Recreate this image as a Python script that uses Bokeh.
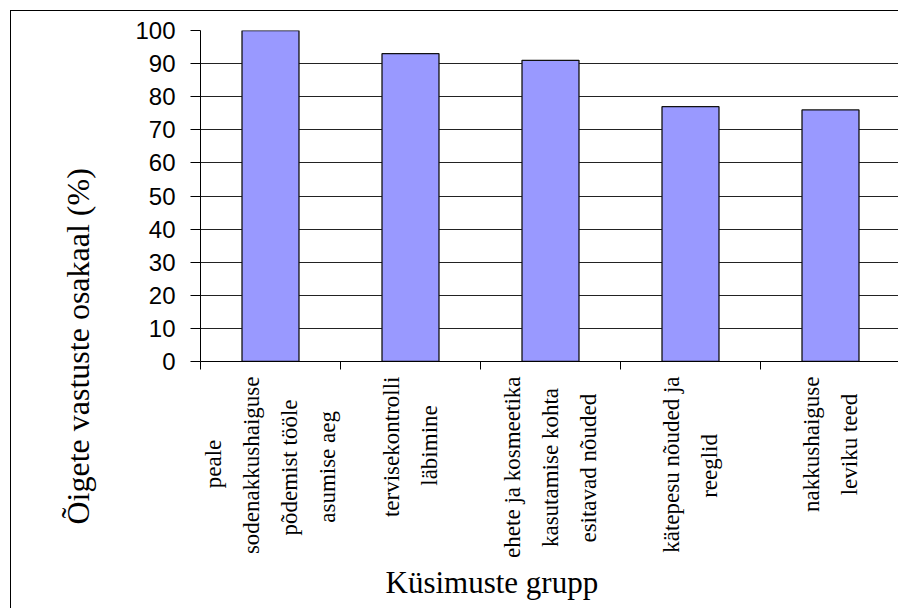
import math
from bokeh.plotting import figure
from bokeh.models import Range1d, FixedTicker, Title, ColumnDataSource
from bokeh.embed import file_html
from bokeh.resources import INLINE

# ---- data ----
categories = [
    "peale\nsodenakkushaiguse\npõdemist tööle\nasumise aeg",
    "tervisekontrolli\nläbimine",
    "ehete ja kosmeetika\nkasutamise kohta\nesitavad nõuded",
    "kätepesu nõuded ja\nreeglid",
    "nakkushaiguse\nleviku teed",
]
values = [100, 93, 91, 77, 76]
y_ticks = [0, 10, 20, 30, 40, 50, 60, 70, 80, 90, 100]
y_title = "Õigete vastuste osakaal (%)"
x_title = "Küsimuste grupp"

# ---- layout / style ----
OX, OY = 11, 12            # figure origin on the page (margin + border)
W, H = 899 - OX, 610 - OY
serif = "Liberation Serif"
sans = "Liberation Sans"

# approximate advance widths (em) of Liberation Serif, used only to centre the
# lines of each rotated multi-line category label
_em = {"a": .444, "b": .5, "c": .444, "d": .5, "e": .444, "f": .333, "g": .5, "h": .5,
       "i": .278, "j": .278, "k": .5, "l": .278, "m": .778, "n": .5, "o": .5, "p": .5,
       "r": .333, "s": .389, "t": .278, "u": .5, "v": .5, "w": .722, "y": .5, "z": .444,
       " ": .25, "õ": .5, "ö": .5, "ä": .444, "ü": .5}


def centred(label):
    lines = label.split("\n")
    widths = [sum(_em.get(ch, .5) for ch in ln) for ln in lines]
    wmax = max(widths)
    out = []
    for ln, w in zip(lines, widths):
        pad = int(round((wmax - w) / 2 / .25))
        out.append(ln + "\u00a0" * pad)
    return "\n".join(out)


n = len(categories)
xc = list(range(n))
src = ColumnDataSource(dict(x=xc, top=values))

p = figure(width=W, height=H, output_backend="svg", toolbar_location=None,
           x_range=Range1d(-0.5, n - 0.5 - 1 / 140), y_range=Range1d(0, 100),
           min_border_left=200 - OX, min_border_right=0, min_border_top=31 - OY,
           min_border_bottom=H - (362 - OY),
           margin=(10, 0, 0, 10),
           styles={"border-left": "1px solid black", "border-top": "1px solid black"})
p.outline_line_color = None
p.background_fill_color = "white"
p.border_fill_color = "white"

p.vbar(x="x", top="top", width=0.407, bottom=0, source=src,
       fill_color="#9999FF", line_color="#111111", line_width=1.3)

# y axis
ya = p.yaxis[0]
ya.ticker = FixedTicker(ticks=y_ticks)
ya.axis_line_color = "black"
ya.major_tick_line_color = "black"
ya.major_tick_out = 10
ya.major_tick_in = 0
ya.minor_tick_line_color = None
ya.major_label_text_font = sans
ya.major_label_text_font_size = "24px"
ya.major_label_text_color = "black"
ya.major_label_standoff = 15

# x axis: category names at the centres, tick marks (minor) at the boundaries
xa = p.xaxis[0]
xa.ticker = FixedTicker(ticks=xc, minor_ticks=[i - 0.5 for i in range(n + 1)])
xa.major_label_overrides = {i: centred(c) for i, c in zip(xc, categories)}
xa.major_label_orientation = math.pi / 2
xa.axis_line_color = "black"
xa.major_tick_line_color = None
xa.major_tick_out = 0
xa.major_tick_in = 0
xa.minor_tick_line_color = "black"
xa.minor_tick_out = 8
xa.minor_tick_in = 0
xa.major_label_standoff = 7
xa.major_label_text_font = serif
xa.major_label_text_font_size = "23px"
xa.major_label_text_color = "black"
xa.major_label_text_line_height = 1.53

# grid
p.xgrid.grid_line_color = None
p.ygrid.ticker = FixedTicker(ticks=y_ticks)
p.ygrid.grid_line_color = "#222222"
p.ygrid.grid_line_width = 1

# axis titles
p.add_layout(Title(text=x_title, align="left", offset=185, standoff=5,
                   text_font=serif, text_font_size="31px", text_font_style="normal",
                   text_color="black"), "below")
p.add_layout(Title(text=y_title, align="left", offset=-163, standoff=73,
                   text_font=serif, text_font_size="32px", text_font_style="normal",
                   text_color="black"), "left")

open("out.html", "w").write(file_html(p, INLINE))
